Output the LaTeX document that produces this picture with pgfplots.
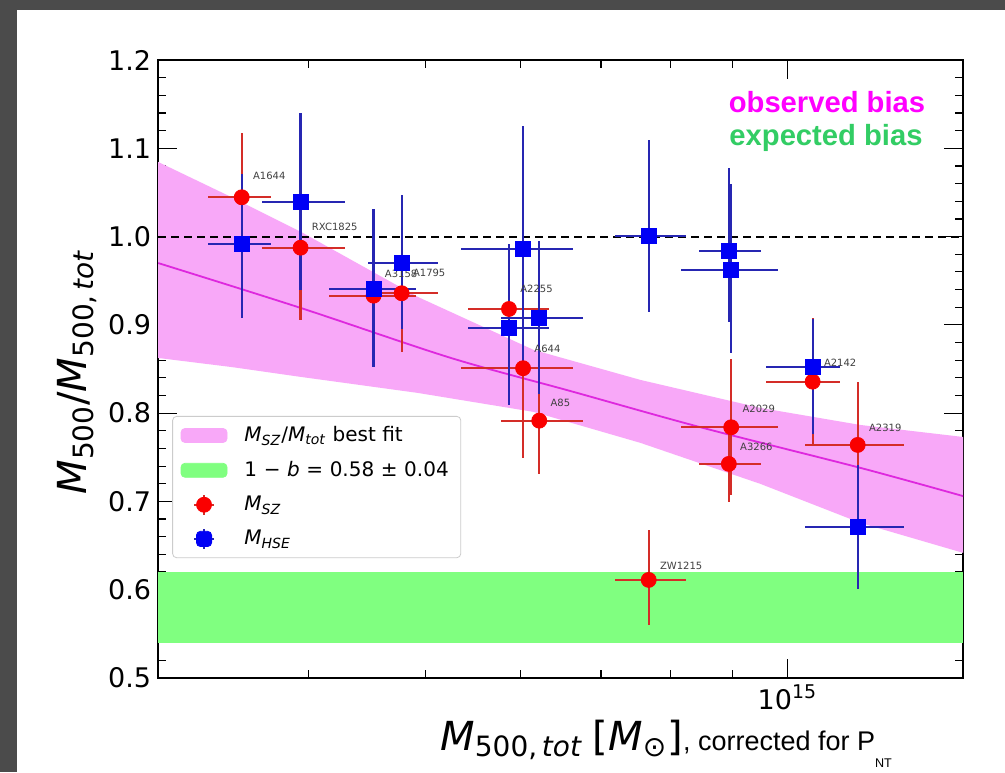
\documentclass[border=0pt]{standalone}
\usepackage{pgfplots}
\pgfplotsset{compat=1.18}
\usepackage{pgfplotstable}
\usepackage{fontspec}
\setmainfont{DejaVu Sans}
\newfontfamily\arial{Liberation Sans}

\definecolor{slidebg}{RGB}{75,75,75}
\definecolor{bandpink}{RGB}{248,168,248}
\definecolor{fitmag}{RGB}{222,40,222}
\definecolor{bandgreen}{RGB}{128,255,128}
\definecolor{szred}{RGB}{250,0,0}
\definecolor{szbar}{RGB}{212,45,40}
\definecolor{hseblue}{RGB}{0,0,245}
\definecolor{hsebar}{RGB}{38,38,178}
\definecolor{obsmag}{RGB}{255,0,255}
\definecolor{expgreen}{RGB}{50,205,100}

\newcommand{\mi}[1]{\textit{#1}}
\newcommand{\gsp}{\hspace{0.33em}}

% M_SZ / M_tot, errors as (minus, plus)
\pgfplotstableread{
name    x         y       exm      exp      eym    eyp
A1644   3.52e14   1.0445  0.22e14  0.20e14  0.073  0.073
RXC1825 3.94e14   0.9874  0.28e14  0.35e14  0.082  0.082
A3158   4.53e14   0.9331  0.37e14  0.38e14  0.065  0.065
A1795   4.78e14   0.9358  0.30e14  0.34e14  0.066  0.066
A2255   5.87e14   0.9180  0.44e14  0.47e14  0.060  0.060
A644    6.03e14   0.8509  0.68e14  0.61e14  0.102  0.102
A85     6.22e14   0.7915  0.44e14  0.54e14  0.060  0.060
ZW1215  7.67e14   0.6111  0.48e14  0.57e14  0.051  0.057
A3266   8.94e14   0.7425  0.50e14  0.56e14  0.043  0.043
A2029   8.98e14   0.7840  0.82e14  0.84e14  0.077  0.077
A2142   1.0495e15 0.8357  0.89e14  0.56e14  0.072  0.072
A2319   1.144e15  0.7640  1.10e14  1.05e14  0.071  0.071
}\sz

% M_HSE / M_tot
\pgfplotstableread{
name    x         y       exm      exp      eym    eyp
A1644   3.52e14   0.9913  0.22e14  0.20e14  0.084  0.080
RXC1825 3.94e14   1.0395  0.28e14  0.35e14  0.100  0.101
A3158   4.53e14   0.9407  0.37e14  0.38e14  0.088  0.091
A1795   4.78e14   0.9704  0.30e14  0.34e14  0.075  0.077
A2255   5.87e14   0.8962  0.44e14  0.47e14  0.087  0.095
A644    6.03e14   0.9856  0.68e14  0.61e14  0.140  0.140
A85     6.22e14   0.9082  0.44e14  0.54e14  0.087  0.087
ZW1215  7.67e14   1.0007  0.48e14  0.57e14  0.086  0.109
A3266   8.94e14   0.9837  0.50e14  0.56e14  0.080  0.094
A2029   8.98e14   0.9622  0.82e14  0.84e14  0.094  0.097
A2142   1.0495e15 0.8527  0.89e14  0.56e14  0.076  0.054
A2319   1.144e15  0.6708  1.10e14  1.05e14  0.070  0.070
}\hse

\tikzset{clab/.style={anchor=west, inner sep=0pt, text=black!75,
    font=\fontsize{5}{6}\selectfont, xshift=5.5pt}}

\begin{document}
\begin{tikzpicture}[x=0.5pt,y=0.5pt]
\fill[white] (0,0) rectangle (1005,772);
\fill[slidebg] (0,0) rectangle (17,772);
\fill[slidebg] (0,762) rectangle (1005,772);

\begin{axis}[
    at={(79pt,47pt)}, anchor=south west,
    scale only axis, width=402.5pt, height=309pt,
    xmode=log, log basis x=10,
    xmin=3e14, xmax=1.4e15, ymin=0.5, ymax=1.2,
    xtick={1e15}, xticklabels={10\textsuperscript{15}},
    minor xtick={4e14,5e14,6e14,7e14,8e14,9e14},
    ytick={0.5,0.6,0.7,0.8,0.9,1.0,1.1,1.2},
    minor y tick num=4,
    yticklabel style={/pgf/number format/.cd, fixed, fixed zerofill,
        precision=1, assume math mode=true},
    tick label style={font=\fontsize{13.5}{16}\selectfont},
    tick align=inside, tick pos=both,
    major tick length=9.5pt, minor tick length=4pt,
    tick style={black, line width=0.6pt},
    axis line style={black, line width=0.8pt},
    legend style={at={(0.0174,0.424)}, anchor=north west,
        draw=black!20, rounded corners=2pt, fill=white,
        font=\fontsize{10}{11}\selectfont,
        inner xsep=4pt, inner ysep=3pt, row sep=4.3pt,
        /tikz/every odd column/.append style={column sep=6.5pt}},
    legend cell align=left,
]

% best-fit band and line
\addplot[fill=bandpink, draw=none, forget plot] coordinates {
    (3e14,1.0845) (3.449e14,1.0449) (3.944e14,1.0052) (4.931e14,0.9316)
    (6.154e14,0.8716) (7.551e14,0.8376) (9.50e14,0.8059) (1.15e15,0.7866)
    (1.4e15,0.7730)
    (1.4e15,0.6417) (1.15e15,0.6757) (9.50e14,0.7198) (7.551e14,0.7663)
    (6.154e14,0.8014) (4.931e14,0.8229) (3.944e14,0.8410) (3.449e14,0.8523)
    (3e14,0.8625)
};
\addplot[fill=bandgreen, draw=none, forget plot] coordinates {
    (3e14,0.54) (1.4e15,0.54) (1.4e15,0.62) (3e14,0.62)
};
\addplot[black, line width=1pt, dash pattern=on 4pt off 2.5pt, forget plot]
    coordinates {(3e14,1.0) (1.4e15,1.0)};
\addplot[fitmag, line width=0.9pt, smooth, forget plot] coordinates {
    (3.0e14,0.970) (3.944e14,0.919) (5.253e14,0.8625) (6.604e14,0.825)
    (8.47e14,0.784) (1.15e15,0.738) (1.4e15,0.706)
};

% M_SZ
\addplot[only marks, mark=*, mark size=3.75pt, color=szred,
    mark options={draw=szred, fill=szred}, forget plot,
    error bars/.cd, x dir=both, x explicit, y dir=both, y explicit,
    error mark=none, error bar style={szbar, line width=1.1pt}]
    table[x=x, y=y, x error plus=exp, x error minus=exm,
          y error plus=eyp, y error minus=eym]{\sz};

% M_HSE
\addplot[only marks, mark=square*, mark size=3.8pt, color=hseblue,
    mark options={draw=hseblue, fill=hseblue}, forget plot,
    error bars/.cd, x dir=both, x explicit, y dir=both, y explicit,
    error mark=none, error bar style={hsebar, line width=1.1pt}]
    table[x=x, y=y, x error plus=exp, x error minus=exm,
          y error plus=eyp, y error minus=eym]{\hse};

% cluster names
\node[clab, yshift=10.8pt] at (axis cs:3.52e14,1.0445) {A1644};
\node[clab, yshift=10.5pt] at (axis cs:3.94e14,0.9874) {RXC1825};
\node[clab, yshift=10.7pt] at (axis cs:4.53e14,0.9331) {A3158};
\node[clab, yshift=10pt]   at (axis cs:4.78e14,0.9358) {A1795};
\node[clab, yshift=9.9pt]  at (axis cs:5.87e14,0.9180) {A2255};
\node[clab, yshift=9.5pt]  at (axis cs:6.03e14,0.8509) {A644};
\node[clab, yshift=8.7pt]  at (axis cs:6.22e14,0.7915) {A85};
\node[clab, yshift=7pt]    at (axis cs:7.67e14,0.6111) {ZW1215};
\node[clab, yshift=8.6pt]  at (axis cs:8.94e14,0.7425) {A3266};
\node[clab, yshift=9pt]    at (axis cs:8.98e14,0.7840) {A2029};
\node[clab, yshift=9.5pt]  at (axis cs:1.0495e15,0.8357) {A2142};
\node[clab, yshift=8.4pt]  at (axis cs:1.144e15,0.7640) {A2319};

% legend
\addlegendimage{legend image code/.code={
    \fill[bandpink] (0pt,-3.5pt) rectangle (23pt,3.5pt);}}
\addlegendentry{\mi{M}\textsubscript{\mi{SZ}}/\mi{M}\textsubscript{\mi{tot}} best fit}
\addlegendimage{legend image code/.code={
    \fill[bandgreen] (0pt,-3.5pt) rectangle (23pt,3.5pt);}}
\addlegendentry{{1\gsp−\gsp\mi{b}\gsp=\gsp0.58\gsp±\gsp0.04}}
\addlegendimage{legend image code/.code={
    \draw[szbar, line width=1pt] (11.5pt,-5pt) -- (11.5pt,5pt) (6.5pt,0pt) -- (16.5pt,0pt);
    \fill[szred] (11.5pt,0pt) circle (3.75pt);}}
\addlegendentry{\mi{M}\textsubscript{\mi{SZ}}}
\addlegendimage{legend image code/.code={
    \draw[hsebar, line width=1pt] (11.5pt,-5pt) -- (11.5pt,5pt) (6.5pt,0pt) -- (16.5pt,0pt);
    \fill[hseblue] (7.7pt,-3.8pt) rectangle (15.3pt,3.8pt);}}
\addlegendentry{\mi{M}\textsubscript{\mi{HSE}}}
\end{axis}

% annotations
\node[anchor=base, inner sep=0pt, text=obsmag,
    font=\arial\bfseries\fontsize{14.6}{17}\selectfont] at (827,659) {observed bias};
\node[anchor=base, inner sep=0pt, text=expgreen,
    font=\arial\bfseries\fontsize{14.6}{17}\selectfont] at (826,626) {expected bias};

% axis titles
\node[rotate=90, inner sep=0pt, font=\fontsize{20}{24}\selectfont] at (77,400)
    {\mi{M}\textsubscript{500}/\mi{M}\textsubscript{500,\,\mi{tot}}};
\node[anchor=base west, inner sep=0pt] at (440,22)
    {{\fontsize{20}{24}\selectfont \mi{M}\textsubscript{500,\,\mi{tot}}\hspace{0.25em}[\mi{M}\textsubscript{⊙}]}%
     {\arial\fontsize{13.5}{16}\selectfont, corrected for P\raisebox{-8.5pt}{\fontsize{6.3}{7}\selectfont NT}}};

\pgfresetboundingbox
\useasboundingbox (0,0) rectangle (1005,772);
\end{tikzpicture}
\end{document}
